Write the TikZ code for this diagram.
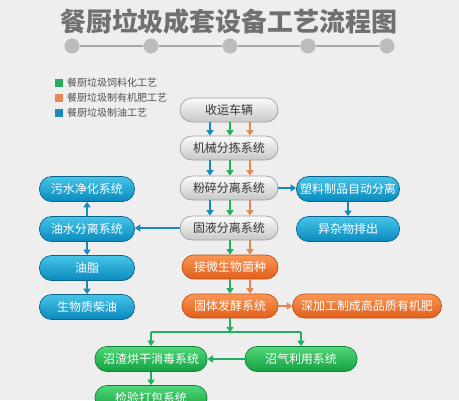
\documentclass[tikz,border=0pt]{standalone}
\usepackage{fontspec}
\setmainfont{Noto Sans CJK SC}
\usetikzlibrary{arrows.meta}
\definecolor{bg}{RGB}{238,238,238}
\definecolor{titlec}{RGB}{112,112,112}
\definecolor{dotc}{RGB}{190,188,186}
\definecolor{linec}{RGB}{170,168,166}
\definecolor{txtg}{RGB}{55,55,55}
\definecolor{legt}{RGB}{80,80,80}
\definecolor{gtop}{RGB}{250,250,250}
\definecolor{gbot}{RGB}{200,200,200}
\definecolor{gbrd}{RGB}{160,160,160}
\definecolor{btop}{RGB}{70,196,232}
\definecolor{bbot}{RGB}{10,138,190}
\definecolor{bbrd}{RGB}{12,100,140}
\definecolor{otop}{RGB}{250,150,85}
\definecolor{obot}{RGB}{225,95,25}
\definecolor{obrd}{RGB}{190,80,20}
\definecolor{grtop}{RGB}{80,215,120}
\definecolor{grbot}{RGB}{20,160,65}
\definecolor{grbrd}{RGB}{15,130,55}
\definecolor{ab}{RGB}{26,138,184}
\definecolor{ag}{RGB}{34,176,96}
\definecolor{ao}{RGB}{226,136,80}
\begin{document}
\begin{tikzpicture}[x=1pt,y=-1pt,
  pill/.style={rounded corners=12pt, minimum height=24pt, inner sep=0pt, font=\fontsize{12}{14}\selectfont, line width=0.7pt},
  gbox/.style={pill, minimum width=98pt, draw=gbrd, top color=gtop, bottom color=gbot, text=txtg},
  obox/.style={pill, minimum width=96pt, draw=obrd, top color=otop, bottom color=obot, text=white},
  bbox/.style={pill, minimum width=95pt, minimum height=25pt, draw=bbrd, top color=btop, bottom color=bbot, text=white},
  grbox/.style={pill, minimum width=112pt, minimum height=25pt, draw=grbrd, top color=grtop, bottom color=grbot, text=white},
  arr/.style={line width=1.8pt, -{Triangle[width=7pt,length=5.5pt]}},
  barr/.style={arr, draw=ab},
  garr/.style={arr, draw=ag},
  oarr/.style={arr, draw=ao},
  legbox/.style={minimum size=8pt, inner sep=0pt},
  legtxt/.style={anchor=west, inner sep=0pt, text=legt, font=\fontsize{10}{12}\selectfont},
  dot/.style={circle, minimum size=16pt, inner sep=0pt, fill=dotc, draw=white!80!dotc, line width=0.6pt}
]
\fill[bg] (0,0) rectangle (459,400);
\useasboundingbox (0,0) rectangle (459,400);

% title
\node[text=titlec, font=\fontsize{26}{30}\selectfont\bfseries] (title) at (229,22) {餐厨垃圾成套设备工艺流程图};
\node[dot] (d1) at (72,46) {};
\node[dot] (d2) at (151,46) {};
\node[dot] (d3) at (230,46) {};
\node[dot] (d4) at (308,46) {};
\node[dot] (d5) at (387,46) {};
\draw[linec, line width=1.6pt] (d1) -- (d2) (d2) -- (d3) (d3) -- (d4) (d4) -- (d5);

% legend
\node[legbox, fill=ag] (lg) at (59,83) {};
\node[legbox, fill=ao] (lo) at (59,98) {};
\node[legbox, fill=ab] (lb) at (59,113) {};
\node[legtxt] (lgt) at (67,83) {餐厨垃圾饲料化工艺};
\node[legtxt] (lot) at (67,98) {餐厨垃圾制有机肥工艺};
\node[legtxt] (lbt) at (67,113) {餐厨垃圾制油工艺};

% central column
\node[gbox] (sy) at (229,110) {收运车辆};
\node[gbox] (jx) at (229,148) {机械分拣系统};
\node[gbox] (fs) at (229,188) {粉碎分离系统};
\node[gbox] (gy) at (229,228) {固液分离系统};
\node[obox] (jw) at (230,267) {接微生物菌种};
\node[obox] (gt) at (230,306) {固体发酵系统};
\node[obox, minimum width=149pt] (sj) at (367,306) {深加工制成高品质有机肥};

% left column
\node[bbox] (ws) at (87,189) {污水净化系统};
\node[bbox] (ys) at (87,229) {油水分离系统};
\node[bbox] (yz) at (87,268) {油脂};
\node[bbox] (sw) at (87,307) {生物质柴油};

% right column
\node[bbox, minimum width=103pt] (sl) at (348,189) {塑料制品自动分离};
\node[bbox, minimum width=103pt] (yw) at (348,229) {异杂物排出};

% bottom
\node[grbox] (zz) at (151,359) {沼渣烘干消毒系统};
\node[grbox] (zq) at (301,359) {沼气利用系统};
\node[grbox] (jy) at (151,398) {检验打包系统};

% triple arrows
\foreach \a/\b in {sy/jx, jx/fs, fs/gy}{
  \draw[barr] ([xshift=-19pt]\a.south) -- ([xshift=-19pt]\b.north);
  \draw[garr] ([xshift=1pt]\a.south) -- ([xshift=1pt]\b.north);
  \draw[oarr] ([xshift=21pt]\a.south) -- ([xshift=21pt]\b.north);
}
\draw[garr] ([xshift=1pt]gy.south) -- ([xshift=0pt]jw.north);
\draw[oarr] ([xshift=21pt]gy.south) -- ([xshift=20pt]jw.north);
\draw[garr] (jw.south) -- (gt.north);
\draw[oarr] ([xshift=20pt]jw.south) -- ([xshift=20pt]gt.north);
\draw[oarr] (gt.east) -- (sj.west);

% blue branches
\draw[barr] (gy.west) -- (gy.west -| ys.east);
\draw[barr] (ys.north) -- (ws.south);
\draw[barr] (ys.south) -- (yz.north);
\draw[barr] (yz.south) -- (sw.north);
\draw[barr] (fs.east) -- (fs.east -| sl.west);
\draw[barr] (sl.south) -- (yw.north);

% green branches
\draw[garr] (gt.south) -- ++(0,14) coordinate (gsplit);
\draw[ag, line width=1.8pt] (zz.north |- gsplit) -- (zq.north |- gsplit);
\draw[garr] (zz.north |- gsplit) -- (zz.north);
\draw[garr] (zq.north |- gsplit) -- (zq.north);
\draw[garr] (zq.west) -- (zz.east);
\draw[garr] (zz.south) -- (jy.north);
\end{tikzpicture}
\end{document}
